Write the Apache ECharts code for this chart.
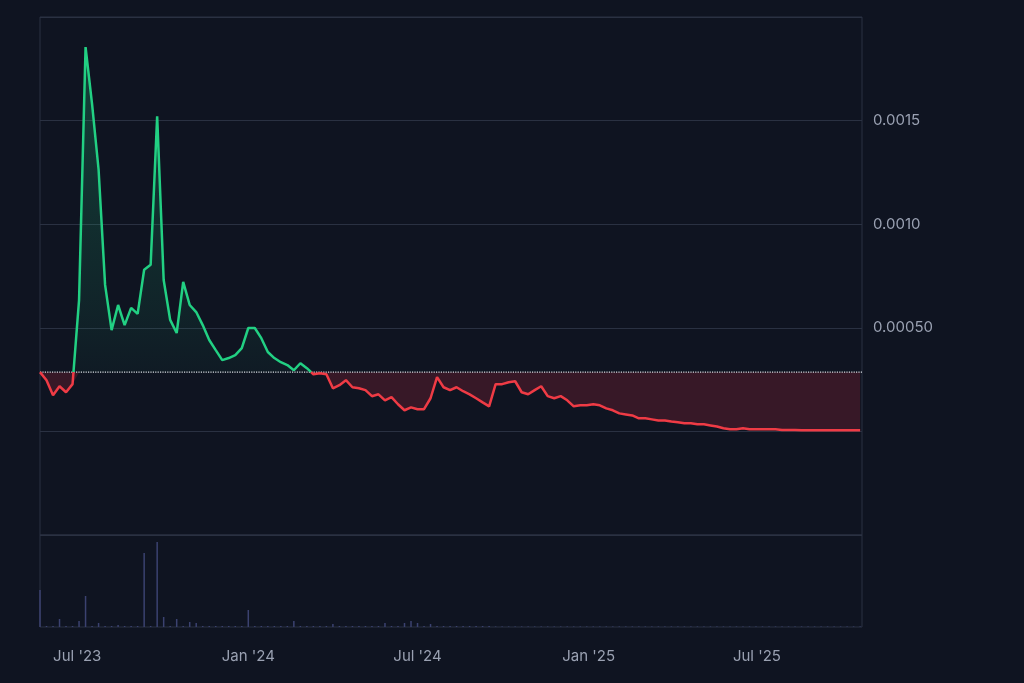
<!DOCTYPE html>
<html>
<head>
<meta charset="utf-8">
<script src="https://cdn.jsdelivr.net/npm/echarts@6/dist/echarts.min.js"></script>
<style>
  html, body { margin: 0; padding: 0; background: #0f1421; }
  #chart { width: 1024px; height: 683px; }
</style>
</head>
<body>
<div id="chart"></div>
<script>
// weekly samples starting 2023-05-22
const startDate = '2023-05-22';
const prices = [
  0.000286, 0.000247, 0.000174, 0.000218, 0.000189, 0.000228, 0.000634, 0.001855, 0.001579, 0.001264,
  0.000707, 0.000489, 0.000610, 0.000513, 0.000596, 0.000567, 0.000780, 0.000804, 0.001521, 0.000731,
  0.000538, 0.000475, 0.000722, 0.000610, 0.000576, 0.000513, 0.000441, 0.000392, 0.000344, 0.000354,
  0.000368, 0.000402, 0.000499, 0.000499, 0.000450, 0.000383, 0.000354, 0.000334, 0.000320, 0.000295,
  0.000329, 0.000305, 0.000276, 0.000281, 0.000276, 0.000208, 0.000223, 0.000247, 0.000213, 0.000208,
  0.000199, 0.000170, 0.000179, 0.000150, 0.000165, 0.000131, 0.000102, 0.000116, 0.000107, 0.000107,
  0.000160, 0.000262, 0.000213, 0.000199, 0.000213, 0.000194, 0.000179, 0.000160, 0.000140, 0.000121,
  0.000228, 0.000228, 0.000237, 0.000242, 0.000189, 0.000179, 0.000199, 0.000218, 0.000170, 0.000160,
  0.000170, 0.000150, 0.000121, 0.000126, 0.000126, 0.000131, 0.000126, 0.000111, 0.000102, 0.000087,
  0.000082, 0.000077, 0.000063, 0.000063, 0.000058, 0.000053, 0.000053, 0.000048, 0.000044, 0.000039,
  0.000039, 0.000034, 0.000034, 0.000029, 0.000024, 0.000015, 0.000010, 0.000010, 0.000015, 0.000010,
  0.000010, 0.000010, 0.000010, 0.000010, 0.000007, 0.000007, 0.000007, 0.000005, 0.000005, 0.000005,
  0.000005, 0.000005, 0.000005, 0.000005, 0.000005, 0.000005, 0.000005
];
const volumes = [
  37, 1, 1, 8, 1, 1, 6, 31, 1, 4, 1, 1, 2, 1, 1, 1, 74, 1, 85, 10,
  1, 8, 1, 5, 4, 1, 1, 1, 1, 1, 1, 1, 17, 1, 1, 1, 1, 1, 1, 6,
  1, 1, 1, 1, 1, 3, 1, 1, 1, 1, 1, 1, 1, 4, 1, 1, 4, 6, 4, 1,
  3, 1, 1, 1, 1, 1, 1, 1, 1, 1, 0.5, 0.5, 0.5, 0.5, 0.5, 0.5, 0.5, 0.5, 0.5, 0.5,
  0.5, 0.5, 0.5, 0.5, 0.5, 0.5, 0.5, 0.5, 0.5, 0.5, 0.5, 0.5, 0.5, 0.5, 0.5, 0.5, 0.5, 0.5, 0.5, 0.5,
  0.5, 0.5, 0.5, 0.5, 0.5, 0.5, 0.5, 0.5, 0.5, 0.5, 0.5, 0.5, 0.5, 0.5, 0.5, 0.5, 0.5, 0.5, 0.5, 0.5,
  0.5, 0.5, 0.5, 0.5, 0.5, 0.5, 0.5
];
const basePrice = 0.000286;
const tickDates = ['2023-07-01', '2024-01-01', '2024-07-01', '2025-01-01', '2025-07-01'];
const yTickLabels = { '0.0005': '0.00050', '0.001': '0.0010', '0.0015': '0.0015' };

const DAY = 86400000;
const t0 = new Date(startDate + 'T00:00:00Z').getTime();
const times = prices.map((_, i) => t0 + i * 7 * DAY);
const xMin = times[0], xMax = times[times.length - 1] + 2 * DAY;
const tickTimes = tickDates.map(d => new Date(d + 'T00:00:00Z').getTime());
const months = ['Jan','Feb','Mar','Apr','May','Jun','Jul','Aug','Sep','Oct','Nov','Dec'];

const upData = prices.map((v, i) => [times[i], Math.max(v, basePrice)]);
const downData = prices.map((v, i) => [times[i], Math.min(v, basePrice)]);
const volData = volumes.map((v, i) => [times[i], v]);
const baseData = [[xMin, basePrice], [xMax, basePrice]];

// split the price line into runs above / below the base, joined at crossings
const upLine = [], downLine = [];
prices.forEach((v, i) => {
  const above = v > basePrice;
  const prevAbove = i > 0 && prices[i - 1] > basePrice;
  if (i > 0 && above !== prevAbove) {
    const p = prices[i - 1];
    const f = (basePrice - p) / (v - p);
    const tc = times[i - 1] + f * (times[i] - times[i - 1]);
    upLine.push([tc, basePrice]);
    downLine.push([tc, basePrice]);
    (above ? downLine : upLine).push([null, null]);
  }
  (above ? upLine : downLine).push([times[i], v]);
});

const gridColor = '#2a3142';
const labelColor = '#9aa1b2';

const chart = echarts.init(document.getElementById('chart'));
chart.setOption({
  backgroundColor: '#0f1421',
  animation: false,
  grid: [
    { left: 40, right: 162, top: 17, height: 518, show: true, borderColor: gridColor, borderWidth: 1 },
    { left: 40, right: 162, top: 535, height: 92, show: true, borderColor: gridColor, borderWidth: 1 }
  ],
  xAxis: [
    {
      type: 'value', gridIndex: 0, min: xMin, max: xMax,
      axisLine: { show: false }, axisTick: { show: false },
      axisLabel: { show: false }, splitLine: { show: false }
    },
    {
      type: 'value', gridIndex: 1, min: xMin, max: xMax,
      axisLine: { show: false }, axisTick: { show: false },
      splitLine: { show: false },
      axisLabel: {
        customValues: tickTimes,
        color: labelColor, fontSize: 15, margin: 22,
        fontFamily: 'Inter, "Noto Sans", sans-serif',
        formatter: v => {
          const d = new Date(v);
          return months[d.getUTCMonth()] + " '" + String(d.getUTCFullYear()).slice(2);
        }
      }
    }
  ],
  yAxis: [
    {
      type: 'value', gridIndex: 0, position: 'right',
      min: -0.0005, max: 0.002, interval: 0.0005,
      axisLine: { show: false }, axisTick: { show: false },
      splitLine: { lineStyle: { color: gridColor } },
      axisLabel: {
        color: labelColor, fontSize: 15, margin: 11,
        fontFamily: 'Inter, "Noto Sans", sans-serif',
        formatter: v => yTickLabels[String(Math.round(v * 10000) / 10000)] || ''
      }
    },
    {
      type: 'value', gridIndex: 1, min: 0, max: 92,
      axisLine: { show: false }, axisTick: { show: false },
      axisLabel: { show: false }, splitLine: { show: false }
    }
  ],
  series: [
    {
      type: 'line', data: upData, symbol: 'none', silent: true,
      lineStyle: { width: 0 },
      areaStyle: {
        origin: basePrice,
        color: new echarts.graphic.LinearGradient(0, 0, 0, 1, [
          { offset: 0, color: 'rgba(34,208,131,0.35)' },
          { offset: 0.8, color: 'rgba(34,208,131,0.12)' },
          { offset: 1, color: 'rgba(34,208,131,0.05)' }
        ])
      }
    },
    {
      type: 'line', data: downData, symbol: 'none', silent: true,
      lineStyle: { width: 0 },
      areaStyle: { origin: basePrice, color: 'rgba(130,35,50,0.5)' }
    },
    {
      type: 'line', data: baseData, symbol: 'none', silent: true,
      lineStyle: { color: '#d8dbe2', type: 'dotted', width: 1.2 }
    },
    {
      type: 'line', data: upLine, symbol: 'none', connectNulls: false,
      lineStyle: { width: 2.5, color: '#22d083' }
    },
    {
      type: 'line', data: downLine, symbol: 'none', connectNulls: false,
      lineStyle: { width: 2.5, color: '#ef3b45' }
    },
    {
      type: 'bar', xAxisIndex: 1, yAxisIndex: 1, data: volData,
      barWidth: 1.5, itemStyle: { color: '#3b4270' }
    }
  ]
});
</script>
</body>
</html>
